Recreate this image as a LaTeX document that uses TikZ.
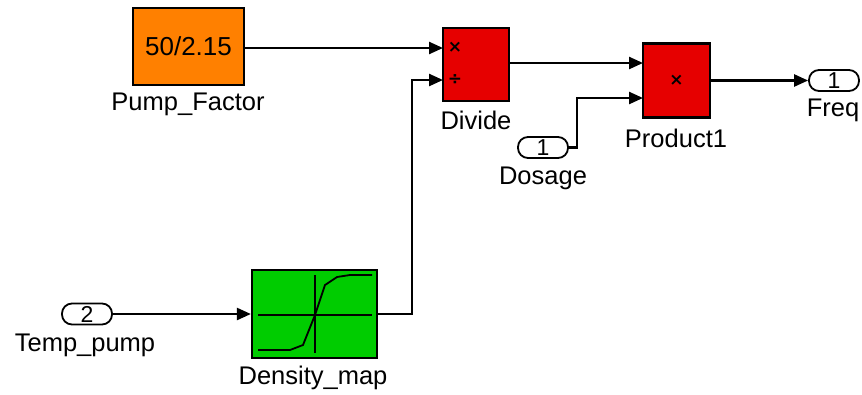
\documentclass[tikz,border=0pt]{standalone}
\usepackage{fontspec}
\setmainfont{Liberation Sans}
\newfontfamily\symfont{DejaVu Sans}
\usetikzlibrary{arrows.meta,calc}
\definecolor{sorange}{RGB}{255,128,0}
\definecolor{sred}{RGB}{230,0,0}
\definecolor{sgreen}{RGB}{0,204,0}
\begin{document}
\begin{tikzpicture}[x=1pt,y=-1pt,
  blk/.style={draw=black, line width=2.2pt, inner sep=0pt},
  port/.style={draw=black, line width=1.8pt, rounded corners=10pt, minimum width=50pt, minimum height=21pt, inner sep=0pt, font=\fontsize{23}{23}\selectfont},
  lbl/.style={font=\fontsize{25.5}{25.5}\selectfont, inner sep=0pt},
  sym/.style={font=\symfont\bfseries\fontsize{17}{17}\selectfont, inner sep=0pt},
  wire/.style={line width=2.4pt, -{Triangle[length=14pt,width=12pt]}},
  icon/.style={line width=1.8pt}]
\useasboundingbox (0,0) rectangle (862,394);
% blocks
\node[blk, fill=sorange, minimum width=111pt, minimum height=77pt, font=\fontsize{26}{26}\selectfont] (pf) at (188.5,46.5) {50/2.15};
\node[blk, fill=sred, minimum width=66pt, minimum height=73pt] (div) at (476,64.5) {};
\node[blk, fill=sred, minimum width=67pt, minimum height=74pt] (prod) at (676.5,80.5) {};
\node[blk, fill=sgreen, minimum width=125pt, minimum height=88pt] (dm) at (314.5,314) {};
% ports
\node[port] (tp) at (87,314) {2};
\node[port] (dos) at (543,147.5) {1};
\node[port] (freq) at (834,80.5) {1};
% labels
\node[lbl] (pfl) at (188,104) {Pump\_Factor};
\node[lbl] (divl) at (476,120) {Divide};
\node[lbl] (prodl) at (676,138) {Product1};
\node[lbl] (dosl) at (543,178) {Dosage};
\node[lbl] (freql) at (833,110) {Freq};
\node[lbl] (tpl) at (85,345) {Temp\_pump};
\node[lbl] (dml) at (313,378) {Density\_map};
% symbols
\node[sym] (s1) at (455,47) {×};
\node[sym] (s2) at (455,80) {÷};
\node[sym] (s3) at (676.5,80.5) {×};
% lookup icon
\draw[icon] (258,315) -- (372,315);
\draw[icon] (315,275) -- (315,353);
\draw[icon] (258,350) -- (290,350) -- (303,345) -- (315,315) -- (325,285) -- (337,277) -- (350,275) -- (372,275);
% connection points
\coordinate (din1) at (443,48);
\coordinate (din2) at (443,80);
\coordinate (j1) at (412,80);
\coordinate (pin1) at (643,63);
\coordinate (pin2) at (643,98);
\coordinate (j2) at (577,98);
% wires
\draw[wire] (pf.east |- din1) -- (din1);
\draw[wire] (dm.east) -- (dm.east -| j1) -- (j1) -- (din2);
\draw[wire] (div.east |- pin1) -- (pin1);
\draw[wire] (dos.east) -- (dos.east -| j2) -- (j2) -- (pin2);
\draw[wire] (prod.east) -- (freq.west);
\draw[wire] (tp.east) -- (dm.west);
\end{tikzpicture}
\end{document}
